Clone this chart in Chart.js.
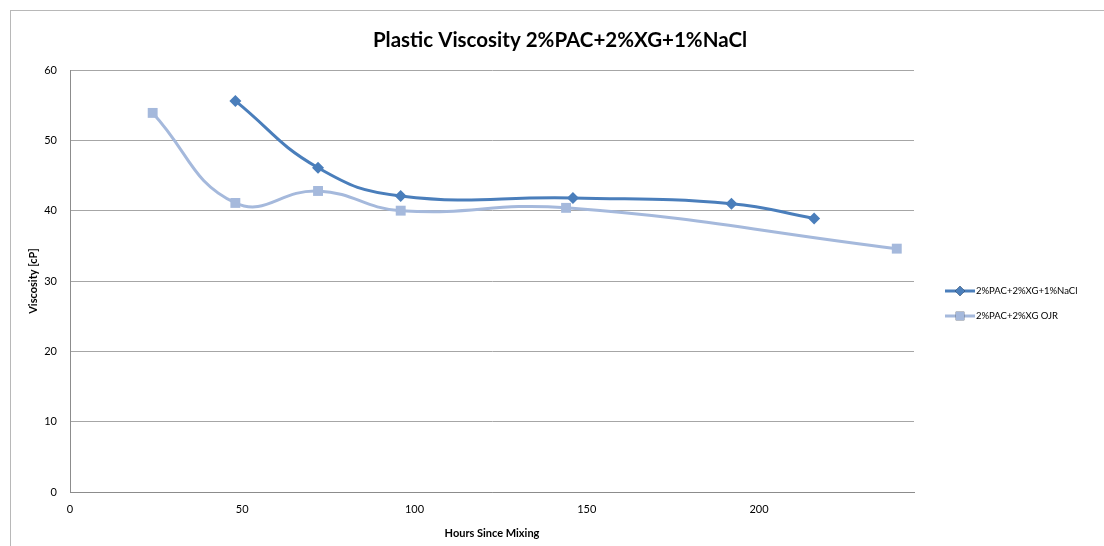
<!DOCTYPE html>
<html>
<head>
<meta charset="utf-8">
<script src="https://cdn.jsdelivr.net/npm/chart.js@4/dist/chart.umd.min.js"></script>
<style>
  html, body { margin: 0; padding: 0; background: #fff; }
  #wrap { position: relative; width: 1104px; height: 546px; overflow: hidden; }
  #frame { position: absolute; left: 10px; top: 10px; width: 1200px; height: 600px;
           border-left: 1px solid #b8b8b8; border-top: 1px solid #b8b8b8; pointer-events: none; }
  canvas { position: absolute; left: 0; top: 0; }
</style>
</head>
<body>
<div id="wrap">
  <canvas id="c" width="1104" height="546"></canvas>
  <div id="frame"></div>
</div>
<script>
// Hours since mixing and measured plastic viscosity (cP)
const hoursNaCl = [48, 72, 96, 146, 192, 216];
const viscNaCl = [55.6, 46.1, 42.1, 41.8, 41.0, 38.9];
const hoursOJR = [24, 48, 72, 96, 144, 240];
const viscOJR = [53.9, 41.1, 42.8, 40.0, 40.4, 34.6];
const seriesNames = ['2%PAC+2%XG+1%NaCl', '2%PAC+2%XG OJR'];
const xTicks = [0, 50, 100, 150, 200];
const yTicks = [0, 10, 20, 30, 40, 50, 60];

const FONT = 'Lato, "Open Sans", sans-serif';
const toPoints = (xs, ys) => xs.map((x, i) => ({ x, y: ys[i] }));

// Legend at the right: a short line with the series marker, then the name
const sideLegend = {
  id: 'sideLegend',
  afterDraw(chart) {
    const ctx = chart.ctx;
    const x0 = 945, x1 = 975, rows = [291, 316];
    chart.data.datasets.forEach((ds, i) => {
      const y = rows[i];
      ctx.save();
      ctx.strokeStyle = ds.borderColor;
      ctx.lineWidth = 3;
      ctx.beginPath(); ctx.moveTo(x0, y); ctx.lineTo(x1, y); ctx.stroke();
      Chart.helpers.drawPoint(ctx, {
        pointStyle: ds.pointStyle, radius: ds.pointRadius - 1, rotation: 0, borderWidth: 0
      }, (x0 + x1) / 2, y);
      ctx.fillStyle = ds.pointBackgroundColor;
      ctx.fill();
      ctx.fillStyle = '#000';
      ctx.font = '9.5px ' + FONT;
      ctx.textBaseline = 'middle';
      ctx.textAlign = 'left';
      ctx.fillText(ds.label, x1 + 1, y);
      ctx.restore();
    });
  }
};

// Chart title drawn centred above the plot
const topTitle = {
  id: 'topTitle',
  afterDraw(chart) {
    const ctx = chart.ctx;
    ctx.save();
    ctx.fillStyle = '#000';
    ctx.font = 'bold 20.5px ' + FONT;
    ctx.textAlign = 'center';
    ctx.textBaseline = 'middle';
    ctx.fillText('Plastic Viscosity 2%PAC+2%XG+1%NaCl', 560, 40);
    ctx.restore();
  }
};

new Chart(document.getElementById('c'), {
  type: 'line',
  data: {
    datasets: [
      {
        label: seriesNames[0],
        data: toPoints(hoursNaCl, viscNaCl),
        borderColor: '#4a7ebb',
        backgroundColor: '#4a7ebb',
        pointBackgroundColor: '#4a7ebb',
        pointBorderWidth: 0,
        pointStyle: 'rectRot',
        pointRadius: 6,
        borderWidth: 3,
        tension: 0.45
      },
      {
        label: seriesNames[1],
        data: toPoints(hoursOJR, viscOJR),
        borderColor: '#a5b9dc',
        backgroundColor: '#a5b9dc',
        pointBackgroundColor: '#a5b9dc',
        pointBorderWidth: 0,
        pointStyle: 'rect',
        pointRadius: 7,
        borderWidth: 3,
        tension: 0.45
      }
    ]
  },
  options: {
    responsive: false,
    animation: false,
    devicePixelRatio: 1,
    layout: { padding: { left: 27, top: 70, right: 190, bottom: 6 } },
    plugins: {
      legend: { display: false },
      title: { display: false },
      tooltip: { enabled: false }
    },
    scales: {
      x: {
        type: 'linear',
        min: 0,
        max: 245,
        afterBuildTicks(scale) { scale.ticks = xTicks.map(v => ({ value: v })); },
        afterFit(scale) { scale.height = 48; },
        grid: { display: false, drawTicks: false },
        border: { display: true, color: '#8c8c8c', width: 1 },
        ticks: { padding: 11, color: '#000', font: { family: FONT, size: 11 } },
        title: {
          display: true,
          text: 'Hours Since Mixing',
          color: '#000',
          font: { family: FONT, size: 11, weight: 'bold' },
          padding: { top: 11, bottom: 0 }
        }
      },
      y: {
        type: 'linear',
        min: 0,
        max: 60,
        afterBuildTicks(scale) { scale.ticks = yTicks.map(v => ({ value: v })); },
        afterFit(scale) { scale.width = 43; },
        grid: { color: '#a6a6a6', lineWidth: 1, drawTicks: false },
        border: { display: true, color: '#8c8c8c', width: 1 },
        ticks: { padding: 13, color: '#000', font: { family: FONT, size: 11 } },
        title: {
          display: true,
          text: 'Viscosity [cP]',
          color: '#000',
          font: { family: FONT, size: 11, weight: 'bold' },
          padding: { top: 0, bottom: 0 }
        }
      }
    }
  },
  plugins: [sideLegend, topTitle]
});
</script>
</body>
</html>
